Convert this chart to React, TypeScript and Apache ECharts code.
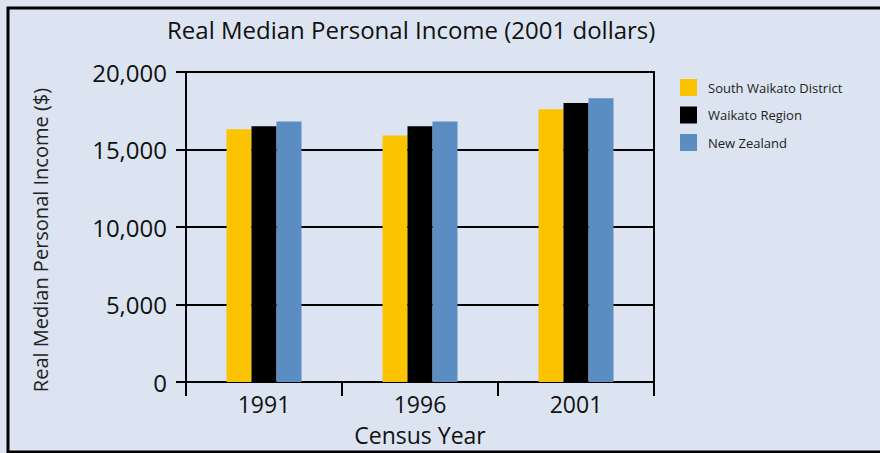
import React, { useEffect, useRef } from "react";
import * as echarts from "echarts";

const categories = ["1991", "1996", "2001"];
const seriesNames = ["South Waikato District", "Waikato Region", "New Zealand"];
const southWaikato = [16300, 15900, 17600];
const waikatoRegion = [16500, 16500, 18000];
const newZealand = [16800, 16800, 18300];
const colors = ["#fcc400", "#000000", "#5b8cc2"];

const FONT = "Open Sans";

export default function App() {
  const ref = useRef<HTMLDivElement>(null);
  useEffect(() => {
    if (!ref.current) return;
    const chart = echarts.init(ref.current, null, { renderer: "svg" });
    const values = [southWaikato, waikatoRegion, newZealand];
    chart.setOption({
      animation: false,
      backgroundColor: "#dbe4f0",
      textStyle: { fontFamily: FONT },
      title: {
        text: "Real Median Personal Income (2001 dollars)",
        left: 167,
        top: 15,
        padding: 0,
        textStyle: { fontFamily: FONT, fontSize: 24, fontWeight: "normal", color: "#111", lineHeight: 28 },
      },
      legend: {
        orient: "vertical",
        left: 680,
        top: 79,
        padding: 0,
        itemWidth: 17,
        itemHeight: 17,
        itemGap: 10.5,
        icon: "rect",
        data: seriesNames,
        textStyle: { fontFamily: FONT, fontSize: 13, color: "#222", padding: [0, 0, 0, 6] },
      },
      grid: {
        left: 186,
        right: 226,
        top: 72,
        bottom: 71,
        show: true,
        borderColor: "#000",
        borderWidth: 2,
        backgroundColor: "transparent",
      },
      xAxis: {
        type: "category",
        data: categories,
        name: "Census Year",
        nameLocation: "middle",
        nameGap: 42,
        nameTextStyle: { fontFamily: FONT, fontSize: 23, color: "#111", lineHeight: 22 },
        axisLine: { lineStyle: { color: "#000", width: 2 } },
        axisTick: { show: true, length: 14, lineStyle: { color: "#000", width: 2 } },
        axisLabel: { fontFamily: FONT, fontSize: 23, color: "#111", margin: 11, lineHeight: 22 },
      },
      yAxis: {
        type: "value",
        min: 0,
        max: 20000,
        interval: 5000,
        axisLine: { show: true, lineStyle: { color: "#000", width: 2 } },
        axisTick: { show: true, length: 10, lineStyle: { color: "#000", width: 2 } },
        splitLine: { show: true, lineStyle: { color: "#000", width: 2 } },
        axisLabel: {
          fontFamily: FONT,
          fontSize: 24,
          color: "#111",
          margin: 19,
          formatter: (v: number) => v.toLocaleString("en-US"),
        },
      },
      series: seriesNames.map((name, i) => ({
        name,
        type: "bar",
        data: values[i],
        barWidth: 25,
        barGap: "0%",
        itemStyle: { color: colors[i] },
      })),
      graphic: [
        {
          type: "rect",
          shape: { x: 8, y: 8, width: 900, height: 444 },
          style: { fill: "none", stroke: "#000", lineWidth: 3 },
          silent: true,
        },
        {
          type: "text",
          x: 40,
          y: 240,
          rotation: Math.PI / 2,
          silent: true,
          style: {
            text: "Real Median Personal Income ($)",
            fontFamily: FONT,
            fontSize: 20,
            fill: "#222",
            align: "center",
            verticalAlign: "middle",
          },
        },
      ],
    });
    return () => chart.dispose();
  }, []);
  return (
    <div
      ref={ref}
      style={{ position: "absolute", left: 0, top: 0, width: 880, height: 453 }}
    />
  );
}
